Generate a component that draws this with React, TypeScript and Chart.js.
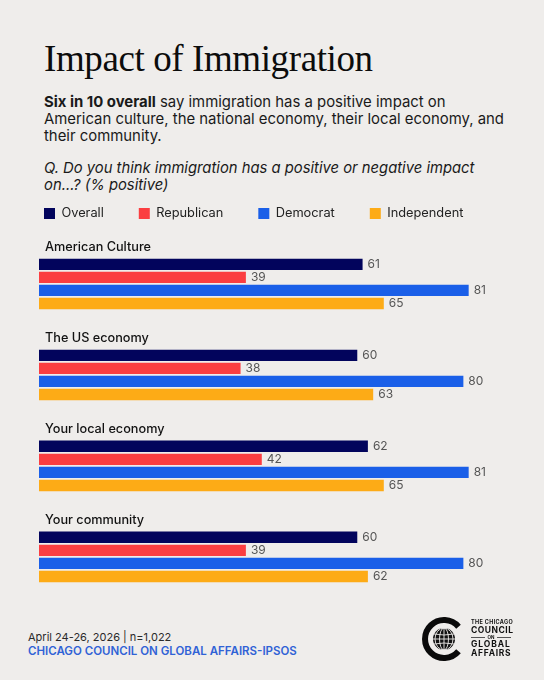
import { useEffect, useRef } from "react";
import { Chart, registerables, type Plugin } from "chart.js";

Chart.register(...registerables);

const QUESTIONS = ["American Culture", "The US economy", "Your local economy", "Your community"];
const SERIES_NAMES = ["Overall", "Republican", "Democrat", "Independent"];
const SERIES_COLORS = ["#02045c", "#fb3e41", "#1a5fe8", "#fdab16"];
const OVERALL = [61, 60, 62, 60];
const REPUBLICAN = [39, 38, 42, 39];
const DEMOCRAT = [81, 80, 81, 80];
const INDEPENDENT = [65, 63, 65, 62];

const SANS = "Inter, sans-serif";

// prints the value just past the end of each bar
const valueLabels: Plugin<"bar"> = {
  id: "valueLabels",
  afterDatasetsDraw(chart) {
    const { ctx } = chart;
    ctx.save();
    ctx.font = `12px ${SANS}`;
    ctx.fillStyle = "#555555";
    ctx.textBaseline = "middle";
    chart.data.datasets.forEach((ds, i) => {
      chart.getDatasetMeta(i).data.forEach((bar, j) => {
        ctx.fillText(String(ds.data[j]), bar.x + 5, bar.y);
      });
    });
    ctx.restore();
  },
};

// legend padding also sets the gap between items, so pin its box height
const legendHeight: Plugin<"bar"> = {
  id: "legendHeight",
  beforeInit(chart) {
    const legend = chart.legend as any;
    const fit = legend.fit;
    legend.fit = function () {
      fit.call(legend);
      legend.height = 66.4;
    };
  },
};

function Logo() {
  const meridians = [4.5, 9];
  return (
    <svg width="52" height="52" viewBox="-26 -26 52 52" style={{ position: "absolute", left: 418, top: 613 }}>
      <path d="M 14.5 -12.3 A 19 19 0 1 0 14.5 12.3" fill="none" stroke="#0a0a0a" strokeWidth="6" />
      <circle r="11" fill="#111" />
      <g fill="none" stroke="#eeecea" strokeWidth="0.9">
        <line x1="-11" x2="11" y1="0" y2="0" />
        <path d="M -10 -5 Q 0 -3 10 -5 M -10 5 Q 0 3 10 5" />
        <line x1="0" x2="0" y1="-11" y2="11" />
        {meridians.map((m) => (
          <ellipse key={m} rx={m} ry="11" />
        ))}
      </g>
    </svg>
  );
}

export default function App() {
  const canvasRef = useRef<HTMLCanvasElement>(null);

  useEffect(() => {
    if (!canvasRef.current) return;
    const seriesValues = [OVERALL, REPUBLICAN, DEMOCRAT, INDEPENDENT];
    const chart = new Chart(canvasRef.current, {
      type: "bar",
      data: {
        labels: QUESTIONS,
        datasets: SERIES_NAMES.map((name, i) => ({
          label: name,
          data: seriesValues[i],
          backgroundColor: SERIES_COLORS[i],
          categoryPercentage: 0.574,
          barPercentage: 0.87,
        })),
      },
      options: {
        indexAxis: "y",
        animation: false,
        responsive: false,
        layout: { padding: { left: 9, right: 0, top: 0, bottom: 0 } },
        scales: {
          x: { display: false, min: 0, max: 95.2, grid: { display: false } },
          y: {
            border: { display: false },
            grid: { display: false },
            afterFit: (scale) => {
              scale.width = 30;
            },
            ticks: {
              mirror: true,
              padding: 6,
              labelOffset: -36.4,
              color: "#111111",
              font: { family: SANS, size: 12.7, weight: 500 },
            },
          },
        },
        plugins: {
          tooltip: { enabled: false },
          legend: {
            position: "top",
            align: "start",
            onClick: () => {},
            labels: {
              boxWidth: 11,
              boxHeight: 11,
              padding: 35,
              color: "#222222",
              font: { family: SANS, size: 12.8 },
            },
          },
        },
      },
      plugins: [legendHeight, valueLabels],
    });
    return () => chart.destroy();
  }, []);

  return (
    <div style={{ position: "absolute", left: 0, top: 0, width: 544, height: 680, overflow: "hidden", background: "#efedeb", fontFamily: SANS, color: "#1a1a1a" }}>
      <div style={{ position: "absolute", left: 44, top: 37, fontFamily: "'Liberation Serif', serif", fontSize: 37, lineHeight: "44px", letterSpacing: -0.4, color: "#0c0c0c", whiteSpace: "nowrap" }}>
        Impact of Immigration
      </div>
      <div style={{ position: "absolute", left: 44, top: 93.5, width: 480, fontSize: 14.9, lineHeight: "17.3px", whiteSpace: "nowrap" }}>
        <b>Six in 10 overall</b> say immigration has a positive impact on
        <br />
        American culture, the national economy, their local economy, and
        <br />
        their community.
      </div>
      <div style={{ position: "absolute", left: 44, top: 159.5, width: 480, fontSize: 14.8, lineHeight: "17.3px", fontStyle: "italic", whiteSpace: "nowrap" }}>
        Q. Do you think immigration has a positive or negative impact
        <br />
        on...? (% positive)
      </div>
      <canvas ref={canvasRef} width={544} height={444} style={{ position: "absolute", left: 0, top: 172, display: "block" }} />
      <div style={{ position: "absolute", left: 28, top: 630, fontSize: 11, lineHeight: "14px", color: "#2a2a2a", whiteSpace: "nowrap" }}>
        April 24-26, 2026 | n=1,022
      </div>
      <div style={{ position: "absolute", left: 28, top: 644, fontSize: 11.5, lineHeight: "14px", fontWeight: 600, color: "#2f62d6", whiteSpace: "nowrap" }}>
        CHICAGO COUNCIL ON GLOBAL AFFAIRS-IPSOS
      </div>
      <Logo />
      <div style={{ position: "absolute", left: 471, top: 618.5, width: 40, color: "#111", fontWeight: 700, whiteSpace: "nowrap" }}>
        <div style={{ fontSize: 5.5, lineHeight: "7px", letterSpacing: 0.35 }}>THE CHICAGO</div>
        <div style={{ fontSize: 8.5, lineHeight: "9.5px", letterSpacing: 0.5 }}>COUNCIL</div>
        <div style={{ fontSize: 4.5, lineHeight: "5px", display: "flex", alignItems: "center", gap: 3 }}>
          <span style={{ flex: 1, height: 0.6, background: "#555" }} />
          ON
          <span style={{ flex: 1, height: 0.6, background: "#555" }} />
        </div>
        <div style={{ fontSize: 8.5, lineHeight: "9px", letterSpacing: 0.9 }}>GLOBAL</div>
        <div style={{ fontSize: 8.5, lineHeight: "9px", letterSpacing: 0.7 }}>AFFAIRS</div>
      </div>
    </div>
  );
}
